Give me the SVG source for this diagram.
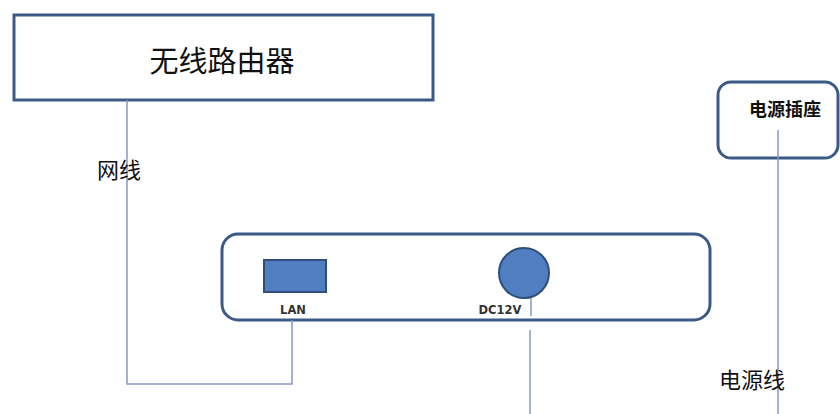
<svg xmlns="http://www.w3.org/2000/svg" width="840" height="414" viewBox="0 0 840 414">
<style>
.box{fill:#ffffff;stroke:#3c5a88;stroke-width:3}
.wire{fill:none;stroke:#8299c4;stroke-width:1.5}
.cjk{font-family:"Noto Sans CJK SC","Noto Sans",sans-serif;fill:#111}
.lbl{font-family:"DejaVu Sans","Liberation Sans",sans-serif;font-weight:bold;fill:#333;font-size:11.5px}
</style>
<rect width="840" height="414" fill="#ffffff"/>
<g id="router">
<rect class="box" x="14" y="15" width="419" height="85"/>
<text class="cjk" x="222" y="72" font-size="29" text-anchor="middle">无线路由器</text>
</g>
<g id="socket">
<rect class="box" x="718" y="82" width="120" height="76" rx="13"/>
<text class="cjk" x="785" y="116" font-size="18" font-weight="bold" text-anchor="middle">电源插座</text>
</g>
<g id="device">
<rect class="box" x="222" y="234" width="488" height="86" rx="16"/>
<rect x="264" y="260" width="62" height="32" fill="#4f7fc0" stroke="#2f4f7a" stroke-width="2"/>
<text class="lbl" x="293" y="314" text-anchor="middle">LAN</text>
<circle cx="524" cy="273" r="25" fill="#4f7fc0" stroke="#2f4f7a" stroke-width="2"/>
<text class="lbl" x="500" y="314" text-anchor="middle">DC12V</text>
</g>
<g id="connectors">
<polyline class="wire" points="127,100 127,384 292,384 292,320"/>
<line class="wire" x1="531" y1="298" x2="531" y2="316"/>
<line class="wire" x1="530" y1="330" x2="530" y2="414"/>
<line class="wire" x1="778" y1="130" x2="778" y2="414"/>
</g>
<g id="labels">
<text class="cjk" x="97" y="178" font-size="22">网线</text>
<text class="cjk" x="719" y="388" font-size="22">电源线</text>
</g>
</svg>
